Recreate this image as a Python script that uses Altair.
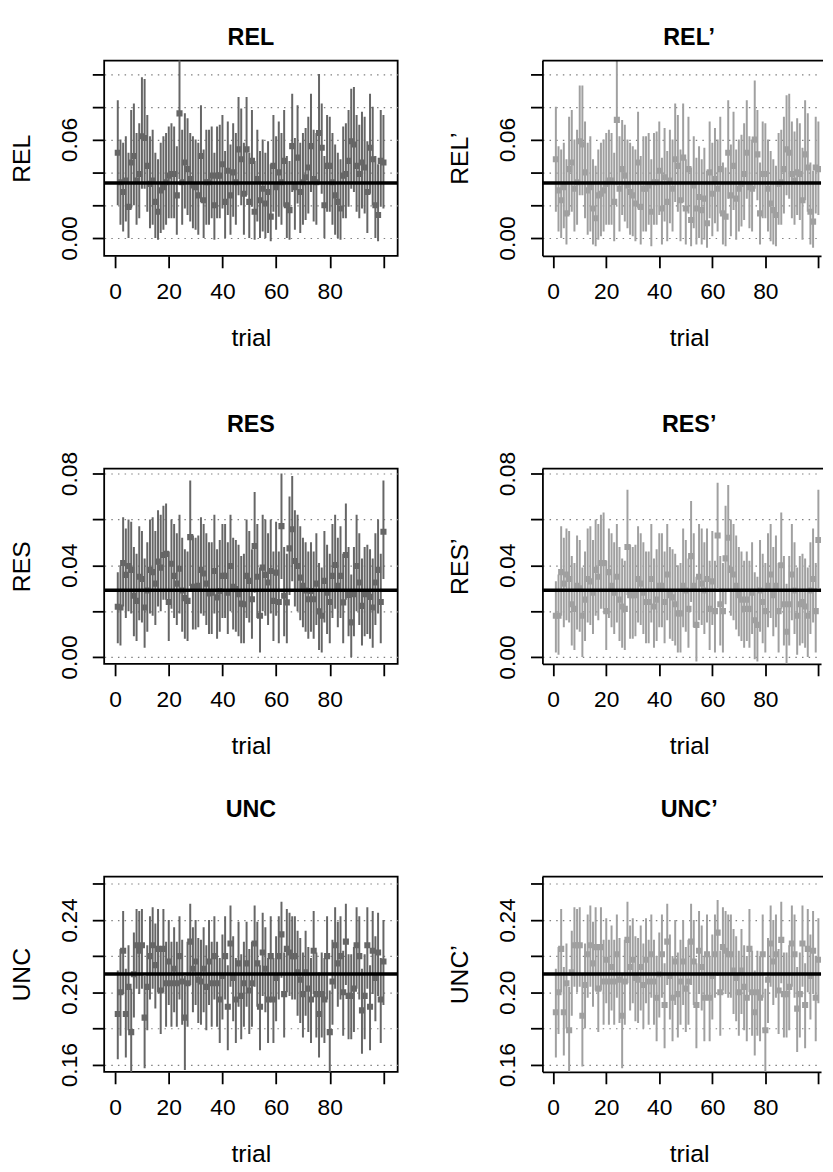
import altair as alt
import pandas as pd

trial = list(range(1, 101))

# ---------------- REL ----------------
rel_c = [0.052,0.034,0.028,0.035,0.019,0.046,0.050,0.035,0.039,0.062,
0.061,0.044,0.033,0.035,0.022,0.016,0.029,0.031,0.034,0.038,
0.039,0.039,0.026,0.076,0.034,0.046,0.042,0.036,0.032,0.031,
0.026,0.050,0.023,0.034,0.034,0.038,0.020,0.038,0.038,0.045,
0.022,0.041,0.026,0.040,0.034,0.054,0.048,0.027,0.054,0.022,
0.047,0.016,0.036,0.023,0.030,0.021,0.028,0.013,0.044,0.031,
0.040,0.034,0.047,0.020,0.017,0.056,0.031,0.049,0.028,0.034,
0.037,0.043,0.056,0.036,0.034,0.064,0.055,0.020,0.044,0.044,
0.034,0.026,0.022,0.018,0.038,0.039,0.047,0.059,0.057,0.044,
0.039,0.046,0.043,0.028,0.055,0.048,0.020,0.014,0.047,0.046]
rel_hi = [0.084,0.060,0.058,0.062,0.052,0.078,0.082,0.064,0.070,0.098,
0.097,0.075,0.062,0.066,0.052,0.048,0.058,0.062,0.064,0.068,
0.070,0.068,0.056,0.115,0.066,0.076,0.073,0.064,0.062,0.060,
0.058,0.081,0.054,0.066,0.066,0.068,0.052,0.068,0.069,0.075,
0.053,0.071,0.057,0.070,0.064,0.086,0.079,0.058,0.086,0.052,
0.078,0.047,0.066,0.053,0.060,0.052,0.059,0.045,0.075,0.062,
0.071,0.064,0.078,0.050,0.047,0.088,0.061,0.081,0.058,0.064,
0.067,0.074,0.088,0.066,0.064,0.100,0.082,0.050,0.075,0.074,
0.064,0.057,0.052,0.048,0.068,0.070,0.078,0.091,0.092,0.075,
0.069,0.077,0.074,0.059,0.088,0.080,0.050,0.045,0.078,0.075]
rel_lo = [0.020,0.008,0.004,0.010,0.000,0.018,0.020,0.008,0.012,0.030,
0.030,0.016,0.006,0.008,0.000,-0.001,0.003,0.005,0.008,0.012,
0.012,0.012,0.002,0.036,0.008,0.018,0.014,0.010,0.006,0.005,
0.002,0.022,0.000,0.008,0.008,0.012,-0.001,0.012,0.012,0.018,
0.000,0.014,0.002,0.013,0.008,0.026,0.020,0.002,0.026,0.000,
0.019,-0.001,0.010,0.000,0.004,0.000,0.003,-0.002,0.016,0.005,
0.013,0.008,0.019,0.000,-0.001,0.028,0.005,0.021,0.003,0.008,
0.011,0.015,0.028,0.010,0.008,0.034,0.027,0.000,0.016,0.016,
0.008,0.002,0.000,-0.001,0.012,0.012,0.019,0.030,0.028,0.016,
0.012,0.018,0.015,0.003,0.027,0.020,0.000,-0.002,0.019,0.018]

# ---------------- REL' ----------------
relp_c = [0.048,0.029,0.023,0.031,0.015,0.042,0.046,0.030,0.034,0.059,
0.057,0.040,0.029,0.031,0.018,0.012,0.026,0.027,0.029,0.033,
0.035,0.035,0.022,0.072,0.030,0.042,0.038,0.032,0.028,0.026,
0.021,0.046,0.019,0.030,0.030,0.032,0.016,0.034,0.034,0.041,
0.018,0.037,0.022,0.035,0.030,0.048,0.044,0.023,0.049,0.018,
0.042,0.011,0.032,0.018,0.025,0.017,0.024,0.009,0.040,0.027,
0.036,0.030,0.042,0.015,0.013,0.052,0.026,0.044,0.024,0.030,
0.033,0.039,0.052,0.031,0.030,0.060,0.051,0.015,0.039,0.039,
0.030,0.021,0.017,0.014,0.033,0.034,0.042,0.054,0.052,0.039,
0.035,0.040,0.039,0.023,0.051,0.043,0.016,0.010,0.043,0.042]
relp_hi = [0.080,0.056,0.054,0.058,0.048,0.074,0.078,0.060,0.066,0.093,
0.093,0.071,0.058,0.062,0.048,0.044,0.054,0.058,0.060,0.064,
0.066,0.064,0.052,0.112,0.062,0.072,0.069,0.060,0.058,0.056,
0.054,0.077,0.050,0.062,0.062,0.064,0.048,0.064,0.065,0.071,
0.049,0.067,0.053,0.066,0.060,0.082,0.075,0.054,0.082,0.048,
0.074,0.043,0.062,0.049,0.056,0.048,0.055,0.041,0.071,0.058,
0.067,0.060,0.074,0.046,0.043,0.084,0.057,0.077,0.054,0.060,
0.063,0.070,0.084,0.062,0.060,0.096,0.078,0.046,0.071,0.070,
0.060,0.053,0.048,0.044,0.064,0.066,0.074,0.087,0.088,0.071,
0.065,0.073,0.070,0.055,0.084,0.076,0.046,0.041,0.074,0.071]
relp_lo = [0.016,0.004,0.000,0.006,-0.004,0.014,0.016,0.004,0.008,0.026,
0.026,0.012,0.002,0.004,-0.004,-0.005,-0.001,0.001,0.004,0.008,
0.008,0.008,-0.002,0.032,0.004,0.014,0.010,0.006,0.002,0.001,
-0.002,0.018,-0.004,0.004,0.004,0.008,-0.005,0.008,0.008,0.014,
-0.004,0.010,-0.002,0.009,0.004,0.022,0.016,-0.002,0.022,-0.004,
0.015,-0.005,0.006,-0.004,0.000,-0.004,-0.001,-0.006,0.012,0.001,
0.009,0.004,0.015,-0.004,-0.005,0.024,0.001,0.017,-0.001,0.004,
0.007,0.011,0.024,0.006,0.004,0.030,0.023,-0.004,0.012,0.012,
0.004,-0.002,-0.004,-0.005,0.008,0.008,0.015,0.026,0.024,0.012,
0.008,0.014,0.011,-0.001,0.023,0.016,-0.004,-0.006,0.015,0.014]

# ---------------- RES ----------------
res_c = [0.0219,0.0216,0.041,0.0358,0.0397,0.038,0.0267,0.0245,0.035,0.034,
0.0216,0.029,0.038,0.037,0.032,0.0416,0.039,0.0445,0.045,0.024,
0.0407,0.0354,0.032,0.0385,0.029,0.0257,0.0245,0.0523,0.0306,0.0306,
0.031,0.038,0.0364,0.032,0.0277,0.028,0.0375,0.026,0.0288,0.0354,
0.0354,0.028,0.0397,0.0306,0.0296,0.0274,0.0233,0.023,0.0354,0.0332,
0.0252,0.0484,0.035,0.018,0.039,0.0358,0.0325,0.0375,0.0245,0.0368,
0.024,0.0571,0.0267,0.0238,0.0474,0.0557,0.0419,0.0397,0.0346,0.031,
0.029,0.0252,0.0288,0.0252,0.032,0.0199,0.018,0.0332,0.028,0.024,
0.0354,0.0401,0.031,0.0354,0.0238,0.0445,0.0271,0.0151,0.0274,0.0397,
0.0325,0.0223,0.0274,0.0277,0.0262,0.0216,0.0325,0.038,0.024,0.0546]
res_hi = [0.037,0.040,0.061,0.056,0.060,0.059,0.048,0.045,0.057,0.055,
0.043,0.050,0.060,0.061,0.055,0.064,0.062,0.066,0.067,0.046,
0.060,0.058,0.054,0.062,0.052,0.047,0.046,0.077,0.053,0.052,
0.053,0.061,0.058,0.054,0.050,0.050,0.062,0.047,0.051,0.058,
0.058,0.050,0.062,0.052,0.051,0.049,0.044,0.045,0.060,0.055,
0.047,0.072,0.058,0.039,0.062,0.060,0.054,0.060,0.046,0.059,
0.046,0.080,0.048,0.045,0.070,0.079,0.064,0.062,0.057,0.052,
0.050,0.046,0.050,0.046,0.054,0.041,0.039,0.055,0.049,0.045,
0.058,0.062,0.052,0.057,0.045,0.067,0.048,0.036,0.048,0.062,
0.054,0.043,0.048,0.049,0.047,0.043,0.054,0.060,0.045,0.077]
res_lo = [0.006,0.005,0.022,0.017,0.020,0.019,0.009,0.007,0.016,0.015,
0.004,0.011,0.019,0.018,0.014,0.022,0.020,0.025,0.025,0.007,
0.021,0.017,0.014,0.019,0.011,0.008,0.007,0.031,0.012,0.012,
0.013,0.019,0.018,0.014,0.010,0.010,0.019,0.008,0.011,0.017,
0.017,0.010,0.020,0.012,0.011,0.009,0.006,0.006,0.017,0.015,
0.008,0.028,0.017,0.002,0.020,0.018,0.014,0.019,0.007,0.018,
0.006,0.034,0.009,0.006,0.027,0.033,0.022,0.020,0.016,0.013,
0.011,0.008,0.011,0.008,0.014,0.003,0.002,0.015,0.010,0.006,
0.017,0.021,0.013,0.017,0.006,0.025,0.009,0.000,0.009,0.020,
0.014,0.005,0.009,0.010,0.008,0.004,0.014,0.019,0.006,0.034]

# ---------------- RES' ----------------
resp_c = [0.018,0.018,0.037,0.032,0.036,0.034,0.023,0.021,0.031,0.030,
0.018,0.025,0.034,0.033,0.028,0.038,0.035,0.041,0.041,0.020,
0.037,0.031,0.028,0.035,0.025,0.022,0.021,0.048,0.027,0.027,
0.027,0.034,0.032,0.028,0.024,0.024,0.034,0.022,0.025,0.031,
0.031,0.024,0.036,0.027,0.026,0.023,0.019,0.019,0.031,0.029,
0.021,0.044,0.031,0.014,0.035,0.032,0.029,0.034,0.021,0.033,
0.020,0.053,0.023,0.020,0.043,0.052,0.038,0.036,0.031,0.027,
0.025,0.021,0.025,0.021,0.028,0.016,0.014,0.029,0.024,0.020,
0.031,0.036,0.027,0.031,0.020,0.040,0.023,0.011,0.023,0.036,
0.029,0.018,0.023,0.024,0.022,0.018,0.029,0.034,0.020,0.051]
resp_hi = [0.033,0.036,0.057,0.052,0.056,0.055,0.044,0.041,0.053,0.051,
0.039,0.046,0.056,0.057,0.051,0.060,0.058,0.062,0.063,0.042,
0.056,0.054,0.050,0.058,0.048,0.043,0.042,0.073,0.049,0.048,
0.049,0.057,0.054,0.050,0.046,0.046,0.058,0.043,0.047,0.054,
0.054,0.046,0.058,0.048,0.047,0.045,0.040,0.041,0.056,0.051,
0.043,0.068,0.054,0.035,0.058,0.056,0.050,0.056,0.042,0.055,
0.042,0.076,0.044,0.041,0.066,0.075,0.060,0.058,0.053,0.048,
0.046,0.042,0.046,0.042,0.050,0.037,0.035,0.051,0.045,0.041,
0.054,0.058,0.048,0.053,0.041,0.063,0.044,0.032,0.044,0.058,
0.050,0.039,0.044,0.045,0.043,0.039,0.050,0.056,0.041,0.073]
resp_lo = [0.002,0.001,0.018,0.013,0.016,0.015,0.005,0.003,0.012,0.011,
0.000,0.007,0.015,0.014,0.010,0.018,0.016,0.021,0.021,0.003,
0.017,0.013,0.010,0.015,0.007,0.004,0.003,0.027,0.008,0.008,
0.009,0.015,0.014,0.010,0.006,0.006,0.015,0.004,0.007,0.013,
0.013,0.006,0.016,0.008,0.007,0.005,0.002,0.002,0.013,0.011,
0.004,0.024,0.013,-0.002,0.016,0.014,0.010,0.015,0.003,0.014,
0.002,0.030,0.005,0.002,0.023,0.029,0.018,0.016,0.012,0.009,
0.007,0.004,0.007,0.004,0.010,-0.001,-0.002,0.011,0.006,0.002,
0.013,0.017,0.009,0.013,0.002,0.021,0.005,-0.003,0.005,0.016,
0.010,0.001,0.005,0.006,0.004,0.000,0.010,0.015,0.002,0.030]

# ---------------- UNC ----------------
unc_c = [0.188,0.200,0.223,0.188,0.203,0.178,0.210,0.226,0.223,0.226,
0.186,0.203,0.220,0.226,0.215,0.224,0.201,0.224,0.205,0.217,
0.205,0.213,0.205,0.220,0.206,0.186,0.205,0.228,0.213,0.217,
0.207,0.206,0.213,0.203,0.217,0.205,0.220,0.205,0.196,0.209,
0.220,0.192,0.227,0.208,0.196,0.216,0.198,0.205,0.216,0.201,
0.205,0.227,0.216,0.192,0.222,0.213,0.196,0.220,0.196,0.208,
0.220,0.232,0.199,0.224,0.222,0.220,0.220,0.211,0.207,0.199,
0.211,0.202,0.196,0.223,0.199,0.188,0.199,0.196,0.220,0.178,
0.206,0.226,0.216,0.220,0.200,0.228,0.198,0.198,0.202,0.226,
0.220,0.190,0.198,0.226,0.192,0.223,0.208,0.222,0.196,0.217]
unc_hi = [0.212,0.224,0.245,0.213,0.226,0.202,0.233,0.246,0.245,0.246,
0.209,0.226,0.242,0.247,0.238,0.246,0.224,0.246,0.228,0.240,
0.228,0.236,0.228,0.242,0.229,0.209,0.228,0.249,0.236,0.240,
0.230,0.229,0.236,0.226,0.240,0.228,0.242,0.228,0.219,0.232,
0.242,0.215,0.248,0.231,0.219,0.239,0.221,0.228,0.239,0.224,
0.228,0.248,0.239,0.215,0.244,0.236,0.219,0.242,0.219,0.231,
0.242,0.250,0.222,0.246,0.244,0.242,0.242,0.234,0.230,0.222,
0.234,0.225,0.219,0.245,0.222,0.211,0.222,0.219,0.242,0.201,
0.229,0.247,0.239,0.242,0.223,0.249,0.221,0.221,0.225,0.247,
0.242,0.213,0.221,0.247,0.215,0.245,0.231,0.244,0.219,0.240]
unc_lo = [0.163,0.176,0.199,0.164,0.179,0.154,0.186,0.202,0.199,0.202,
0.158,0.179,0.196,0.202,0.191,0.200,0.177,0.200,0.181,0.193,
0.181,0.189,0.181,0.196,0.182,0.157,0.181,0.204,0.189,0.193,
0.183,0.182,0.189,0.179,0.193,0.181,0.196,0.181,0.172,0.185,
0.196,0.168,0.203,0.184,0.172,0.192,0.174,0.181,0.192,0.177,
0.181,0.203,0.192,0.168,0.198,0.189,0.172,0.196,0.172,0.184,
0.196,0.208,0.175,0.200,0.198,0.196,0.196,0.187,0.183,0.175,
0.187,0.178,0.172,0.199,0.175,0.164,0.175,0.172,0.196,0.154,
0.182,0.202,0.192,0.196,0.176,0.204,0.174,0.174,0.178,0.202,
0.196,0.166,0.174,0.202,0.168,0.199,0.184,0.198,0.172,0.193]

# ---------------- UNC' ----------------
uncp_c = [0.189,0.200,0.224,0.189,0.205,0.179,0.211,0.226,0.226,0.226,
0.187,0.204,0.221,0.226,0.216,0.225,0.202,0.225,0.206,0.218,
0.206,0.214,0.206,0.221,0.207,0.187,0.206,0.229,0.214,0.218,
0.208,0.207,0.214,0.204,0.218,0.206,0.221,0.206,0.197,0.210,
0.221,0.193,0.228,0.209,0.197,0.217,0.199,0.206,0.217,0.202,
0.206,0.228,0.217,0.193,0.223,0.214,0.197,0.221,0.197,0.209,
0.221,0.233,0.200,0.225,0.223,0.221,0.221,0.212,0.208,0.200,
0.212,0.203,0.197,0.224,0.200,0.189,0.200,0.197,0.221,0.179,
0.207,0.227,0.217,0.221,0.201,0.229,0.199,0.199,0.203,0.227,
0.221,0.191,0.199,0.227,0.193,0.224,0.209,0.223,0.197,0.218]
uncp_hi = [0.213,0.225,0.246,0.214,0.227,0.203,0.234,0.247,0.246,0.247,
0.210,0.227,0.243,0.248,0.239,0.247,0.225,0.247,0.229,0.241,
0.229,0.237,0.229,0.243,0.230,0.210,0.229,0.250,0.237,0.241,
0.231,0.230,0.237,0.227,0.241,0.229,0.243,0.229,0.220,0.233,
0.243,0.216,0.249,0.232,0.220,0.240,0.222,0.229,0.240,0.225,
0.229,0.249,0.240,0.216,0.245,0.237,0.220,0.243,0.220,0.232,
0.243,0.251,0.223,0.247,0.245,0.243,0.243,0.235,0.231,0.223,
0.235,0.226,0.220,0.246,0.223,0.212,0.223,0.220,0.243,0.202,
0.230,0.248,0.240,0.243,0.224,0.250,0.222,0.222,0.226,0.248,
0.243,0.214,0.222,0.248,0.216,0.246,0.232,0.245,0.220,0.241]
uncp_lo = [0.164,0.177,0.200,0.165,0.180,0.155,0.187,0.203,0.200,0.203,
0.159,0.180,0.197,0.203,0.192,0.201,0.178,0.201,0.182,0.194,
0.182,0.190,0.182,0.197,0.183,0.158,0.182,0.205,0.190,0.194,
0.184,0.183,0.190,0.180,0.194,0.182,0.197,0.182,0.173,0.186,
0.197,0.169,0.204,0.185,0.173,0.193,0.175,0.182,0.193,0.178,
0.182,0.204,0.193,0.169,0.199,0.190,0.173,0.197,0.173,0.185,
0.197,0.209,0.176,0.201,0.199,0.197,0.197,0.188,0.184,0.176,
0.188,0.179,0.173,0.200,0.176,0.165,0.176,0.173,0.197,0.155,
0.183,0.203,0.193,0.197,0.177,0.205,0.175,0.175,0.179,0.203,
0.197,0.167,0.175,0.203,0.169,0.200,0.185,0.199,0.173,0.194]

ref_rel = 0.0335
ref_res = 0.0291
ref_unc = 0.2101

x_ticks = [0, 20, 40, 60, 80, 100]

FONT = "Liberation Sans"
H = 197
W_L, W_R = 296, 281
XDOM_L = [-4.07, 105.3]
XDOM_R = [-4.07, 101.0]
DARK = "#666666"
LIGHT = "#a0a0a0"


def panel(name, c, lo, hi, ref, color, ydom, yticks, ylabs, title_base, right):
    W = W_R if right else W_L
    df = pd.DataFrame({"trial": trial, "c": c, "lo": lo, "hi": hi})
    rdf = pd.DataFrame({"ref": [ref], "name": [name]})
    lab_list = ",".join("'%s'" % s for s in ylabs)
    yaxis = alt.Axis(
        title=name, values=yticks, format=".2f",
        labelExpr="indexof([%s], datum.label) >= 0 ? datum.label : ''" % lab_list,
        labelAngle=270, labelAlign="center", labelBaseline="alphabetic",
        labelPadding=16, labelFontSize=23, labelFont=FONT, labelColor="black",
        tickSize=12, tickWidth=1.8, tickColor="black",
        domain=right, domainColor="black", domainWidth=1.8,
        grid=True, gridDash=[1.5, 5.2], gridColor="#808080", gridWidth=1.2,
        titleAngle=270, titleFontSize=25, titleFont=FONT, titleFontWeight="normal",
        titleColor="black", titleX=-75.5, titleY=H / 2, titleAlign="center",
        titleBaseline="alphabetic",
    )
    xaxis = alt.Axis(
        title="trial", values=x_ticks, format="d",
        labelExpr="datum.value == 100 ? '' : datum.label",
        labelPadding=13, labelFontSize=23, labelFont=FONT, labelColor="black",
        tickSize=12, tickWidth=1.8, tickColor="black",
        domain=right, domainColor="black", domainWidth=1.8, grid=False,
        titleFontSize=25, titleFont=FONT, titleFontWeight="normal", titleColor="black",
        titleX=148, titleY=90, titleBaseline="alphabetic", titleAlign="center",
    )
    xs = alt.Scale(domain=XDOM_R if right else XDOM_L, nice=False, zero=False)
    ys = alt.Scale(domain=ydom, nice=False, zero=False)
    bars = alt.Chart(df).mark_rule(color=color, strokeWidth=2, clip=True).encode(
        x=alt.X("trial:Q", scale=xs, axis=xaxis),
        y=alt.Y("lo:Q", scale=ys, axis=yaxis),
        y2="hi:Q",
    )
    pts = alt.Chart(df).mark_square(color=color, size=38, opacity=1, filled=True, clip=True).encode(
        x=alt.X("trial:Q", scale=xs, axis=xaxis),
        y=alt.Y("c:Q", scale=ys, axis=yaxis),
    )
    refl = alt.Chart(rdf).mark_rule(color="black", strokeWidth=3.5).encode(
        y=alt.Y("ref:Q", scale=ys, axis=yaxis),
    )
    ttl = alt.Chart(rdf).mark_text(
        font=FONT, fontSize=23.5, fontWeight="bold", color="black",
        align="center", baseline="alphabetic",
    ).encode(text="name:N", x=alt.value(148), y=alt.value(title_base))
    layers = [bars, pts, refl, ttl]
    props = dict(width=W, height=H)
    if right:
        top = alt.Chart(rdf).mark_rule(color="black", strokeWidth=1.8).encode(
            x=alt.value(0), x2=alt.value(W + 2), y=alt.value(0)
        )
        layers.append(top)
        props["view"] = alt.ViewBackground(stroke="transparent")
    return alt.layer(*layers).properties(**props)


rel_dom = [-0.0109, 0.1082]
res_dom = [-0.0030, 0.0822]
unc_dom = [0.1560, 0.2640]
rel_ticks = [0.0, 0.02, 0.04, 0.06, 0.08, 0.10]
res_ticks = [0.0, 0.02, 0.04, 0.06, 0.08]
unc_ticks = [0.16, 0.18, 0.20, 0.22, 0.24, 0.26]

panels = [
    panel("REL", rel_c, rel_lo, rel_hi, ref_rel, DARK, rel_dom, rel_ticks, ["0.00", "0.06"], -15.3, False),
    panel("REL\u2019", relp_c, relp_lo, relp_hi, ref_rel, LIGHT, rel_dom, rel_ticks, ["0.00", "0.06"], -15.3, True),
    panel("RES", res_c, res_lo, res_hi, ref_res, DARK, res_dom, res_ticks, ["0.00", "0.04", "0.08"], -36.8, False),
    panel("RES\u2019", resp_c, resp_lo, resp_hi, ref_res, LIGHT, res_dom, res_ticks, ["0.00", "0.04", "0.08"], -36.8, True),
    panel("UNC", unc_c, unc_lo, unc_hi, ref_unc, DARK, unc_dom, unc_ticks, ["0.16", "0.20", "0.24"], -59.6, False),
    panel("UNC\u2019", uncp_c, uncp_lo, uncp_hi, ref_unc, LIGHT, unc_dom, unc_ticks, ["0.16", "0.20", "0.24"], -59.6, True),
]

chart = alt.concat(
    *panels, columns=2, spacing={"row": 214.5, "column": 146}, bounds="flush"
).configure_view(
    stroke="black", strokeWidth=1.8
).properties(
    background="white",
    padding={"left": 0, "top": 12, "right": 0, "bottom": 0},
)

chart.save("out.html", embed_options={"renderer": "svg", "actions": False})
